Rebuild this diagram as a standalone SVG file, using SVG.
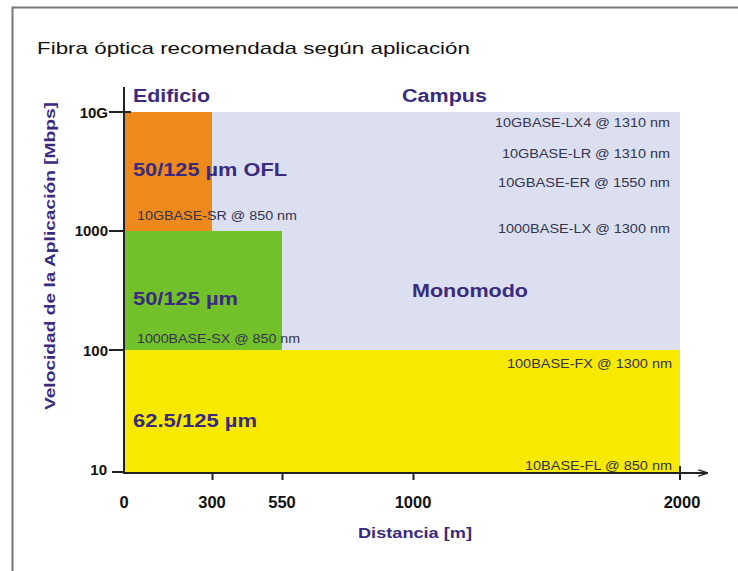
<svg xmlns="http://www.w3.org/2000/svg" width="738" height="571" viewBox="0 0 738 571">
<defs>
<style>
.t{font-family:"Liberation Sans",Arial,sans-serif}
.b{font-family:"Liberation Sans",Arial,sans-serif;font-weight:bold}
.p{fill:#3a2b7e}
.s{font-family:"Liberation Sans",Arial,sans-serif;font-size:12px;fill:#34344f}
.ax{stroke:#222;stroke-width:2;fill:none}
.tk{font-family:"Liberation Sans",Arial,sans-serif;font-weight:bold;font-size:15px;fill:#111}
.xk{font-family:"Liberation Sans",Arial,sans-serif;font-weight:bold;font-size:16.5px;fill:#111}
</style>
<marker id="arr" viewBox="0 0 8 8" refX="7" refY="4" markerWidth="5" markerHeight="5" orient="auto">
<path d="M0,1.5 L8,4 L0,6.5" fill="none" stroke="#222" stroke-width="1.2"/>
</marker>
</defs>
<rect width="738" height="571" fill="#fff"/>
<path d="M12.5,571 V7.5 H738" fill="none" stroke="#777" stroke-width="2"/>
<text class="t" x="37" y="54" font-size="17" fill="#111" textLength="433" lengthAdjust="spacingAndGlyphs">Fibra óptica recomendada según aplicación</text>

<g id="regions">
<rect id="monomodo" x="124" y="112" width="556" height="238" fill="#dcdff0"/>
<rect id="ofl" x="124" y="112" width="88" height="119" fill="#ee8a1c"/>
<rect id="mm50" x="124" y="231" width="158" height="119" fill="#72c02a"/>
<rect id="mm625" x="124" y="350" width="556" height="123" fill="#f7ea00"/>
</g>

<g id="labels">
<text class="b p" x="133" y="102" font-size="18" textLength="77" lengthAdjust="spacingAndGlyphs">Edificio</text>
<text class="b p" x="402" y="102" font-size="18" textLength="85" lengthAdjust="spacingAndGlyphs">Campus</text>
<text class="b p" x="133" y="176" font-size="18" textLength="154" lengthAdjust="spacingAndGlyphs">50/125 µm OFL</text>
<text class="s" x="137" y="220" textLength="160" lengthAdjust="spacingAndGlyphs">10GBASE-SR @ 850 nm</text>
<text class="b p" x="133" y="305" font-size="18" textLength="105" lengthAdjust="spacingAndGlyphs">50/125 µm</text>
<text class="s" x="137" y="343" textLength="163" lengthAdjust="spacingAndGlyphs">1000BASE-SX @ 850 nm</text>
<text class="b p" x="133" y="427" font-size="18" textLength="124" lengthAdjust="spacingAndGlyphs">62.5/125 µm</text>
<text class="b p" x="412" y="297" font-size="18" textLength="116" lengthAdjust="spacingAndGlyphs">Monomodo</text>
<text class="s" x="495" y="127" textLength="175" lengthAdjust="spacingAndGlyphs">10GBASE-LX4 @ 1310 nm</text>
<text class="s" x="502" y="158" textLength="168" lengthAdjust="spacingAndGlyphs">10GBASE-LR @ 1310 nm</text>
<text class="s" x="498" y="187" textLength="172" lengthAdjust="spacingAndGlyphs">10GBASE-ER @ 1550 nm</text>
<text class="s" x="498" y="233" textLength="172" lengthAdjust="spacingAndGlyphs">1000BASE-LX @ 1300 nm</text>
<text class="s" x="507" y="368" textLength="165" lengthAdjust="spacingAndGlyphs">100BASE-FX @ 1300 nm</text>
<text class="s" x="525" y="470" textLength="147" lengthAdjust="spacingAndGlyphs">10BASE-FL @ 850 nm</text>
</g>

<g id="axes">
<line class="ax" x1="124" y1="87" x2="124" y2="474"/>
<line class="ax" x1="123" y1="473" x2="707" y2="473" marker-end="url(#arr)"/>
<line class="ax" x1="109" y1="112" x2="131" y2="112"/>
<line class="ax" x1="109" y1="231" x2="124" y2="231"/>
<line class="ax" x1="109" y1="350" x2="124" y2="350"/>
<line class="ax" x1="112" y1="472" x2="124" y2="472"/>
<line class="ax" x1="212.5" y1="473" x2="212.5" y2="480"/>
<line class="ax" x1="282.5" y1="473" x2="282.5" y2="480"/>
<line class="ax" x1="413.5" y1="473" x2="413.5" y2="480"/>
<line class="ax" x1="680" y1="466" x2="680" y2="480"/>
<text class="tk" x="108" y="118" text-anchor="end">10G</text>
<text class="tk" x="108" y="236" text-anchor="end">1000</text>
<text class="tk" x="108" y="356" text-anchor="end">100</text>
<text class="tk" x="107" y="475" text-anchor="end">10</text>
<text class="xk" x="124" y="508" text-anchor="middle">0</text>
<text class="xk" x="212" y="508" text-anchor="middle">300</text>
<text class="xk" x="282" y="508" text-anchor="middle">550</text>
<text class="xk" x="413" y="508" text-anchor="middle">1000</text>
<text class="xk" x="682" y="508" text-anchor="middle">2000</text>
<text class="b p" x="358" y="538" font-size="15" textLength="114" lengthAdjust="spacingAndGlyphs">Distancia [m]</text>
<text class="b p" transform="translate(55,256) rotate(-90)" x="-154" y="0" font-size="15" textLength="308" lengthAdjust="spacingAndGlyphs">Velocidad de la Aplicación [Mbps]</text>
</g>
</svg>
